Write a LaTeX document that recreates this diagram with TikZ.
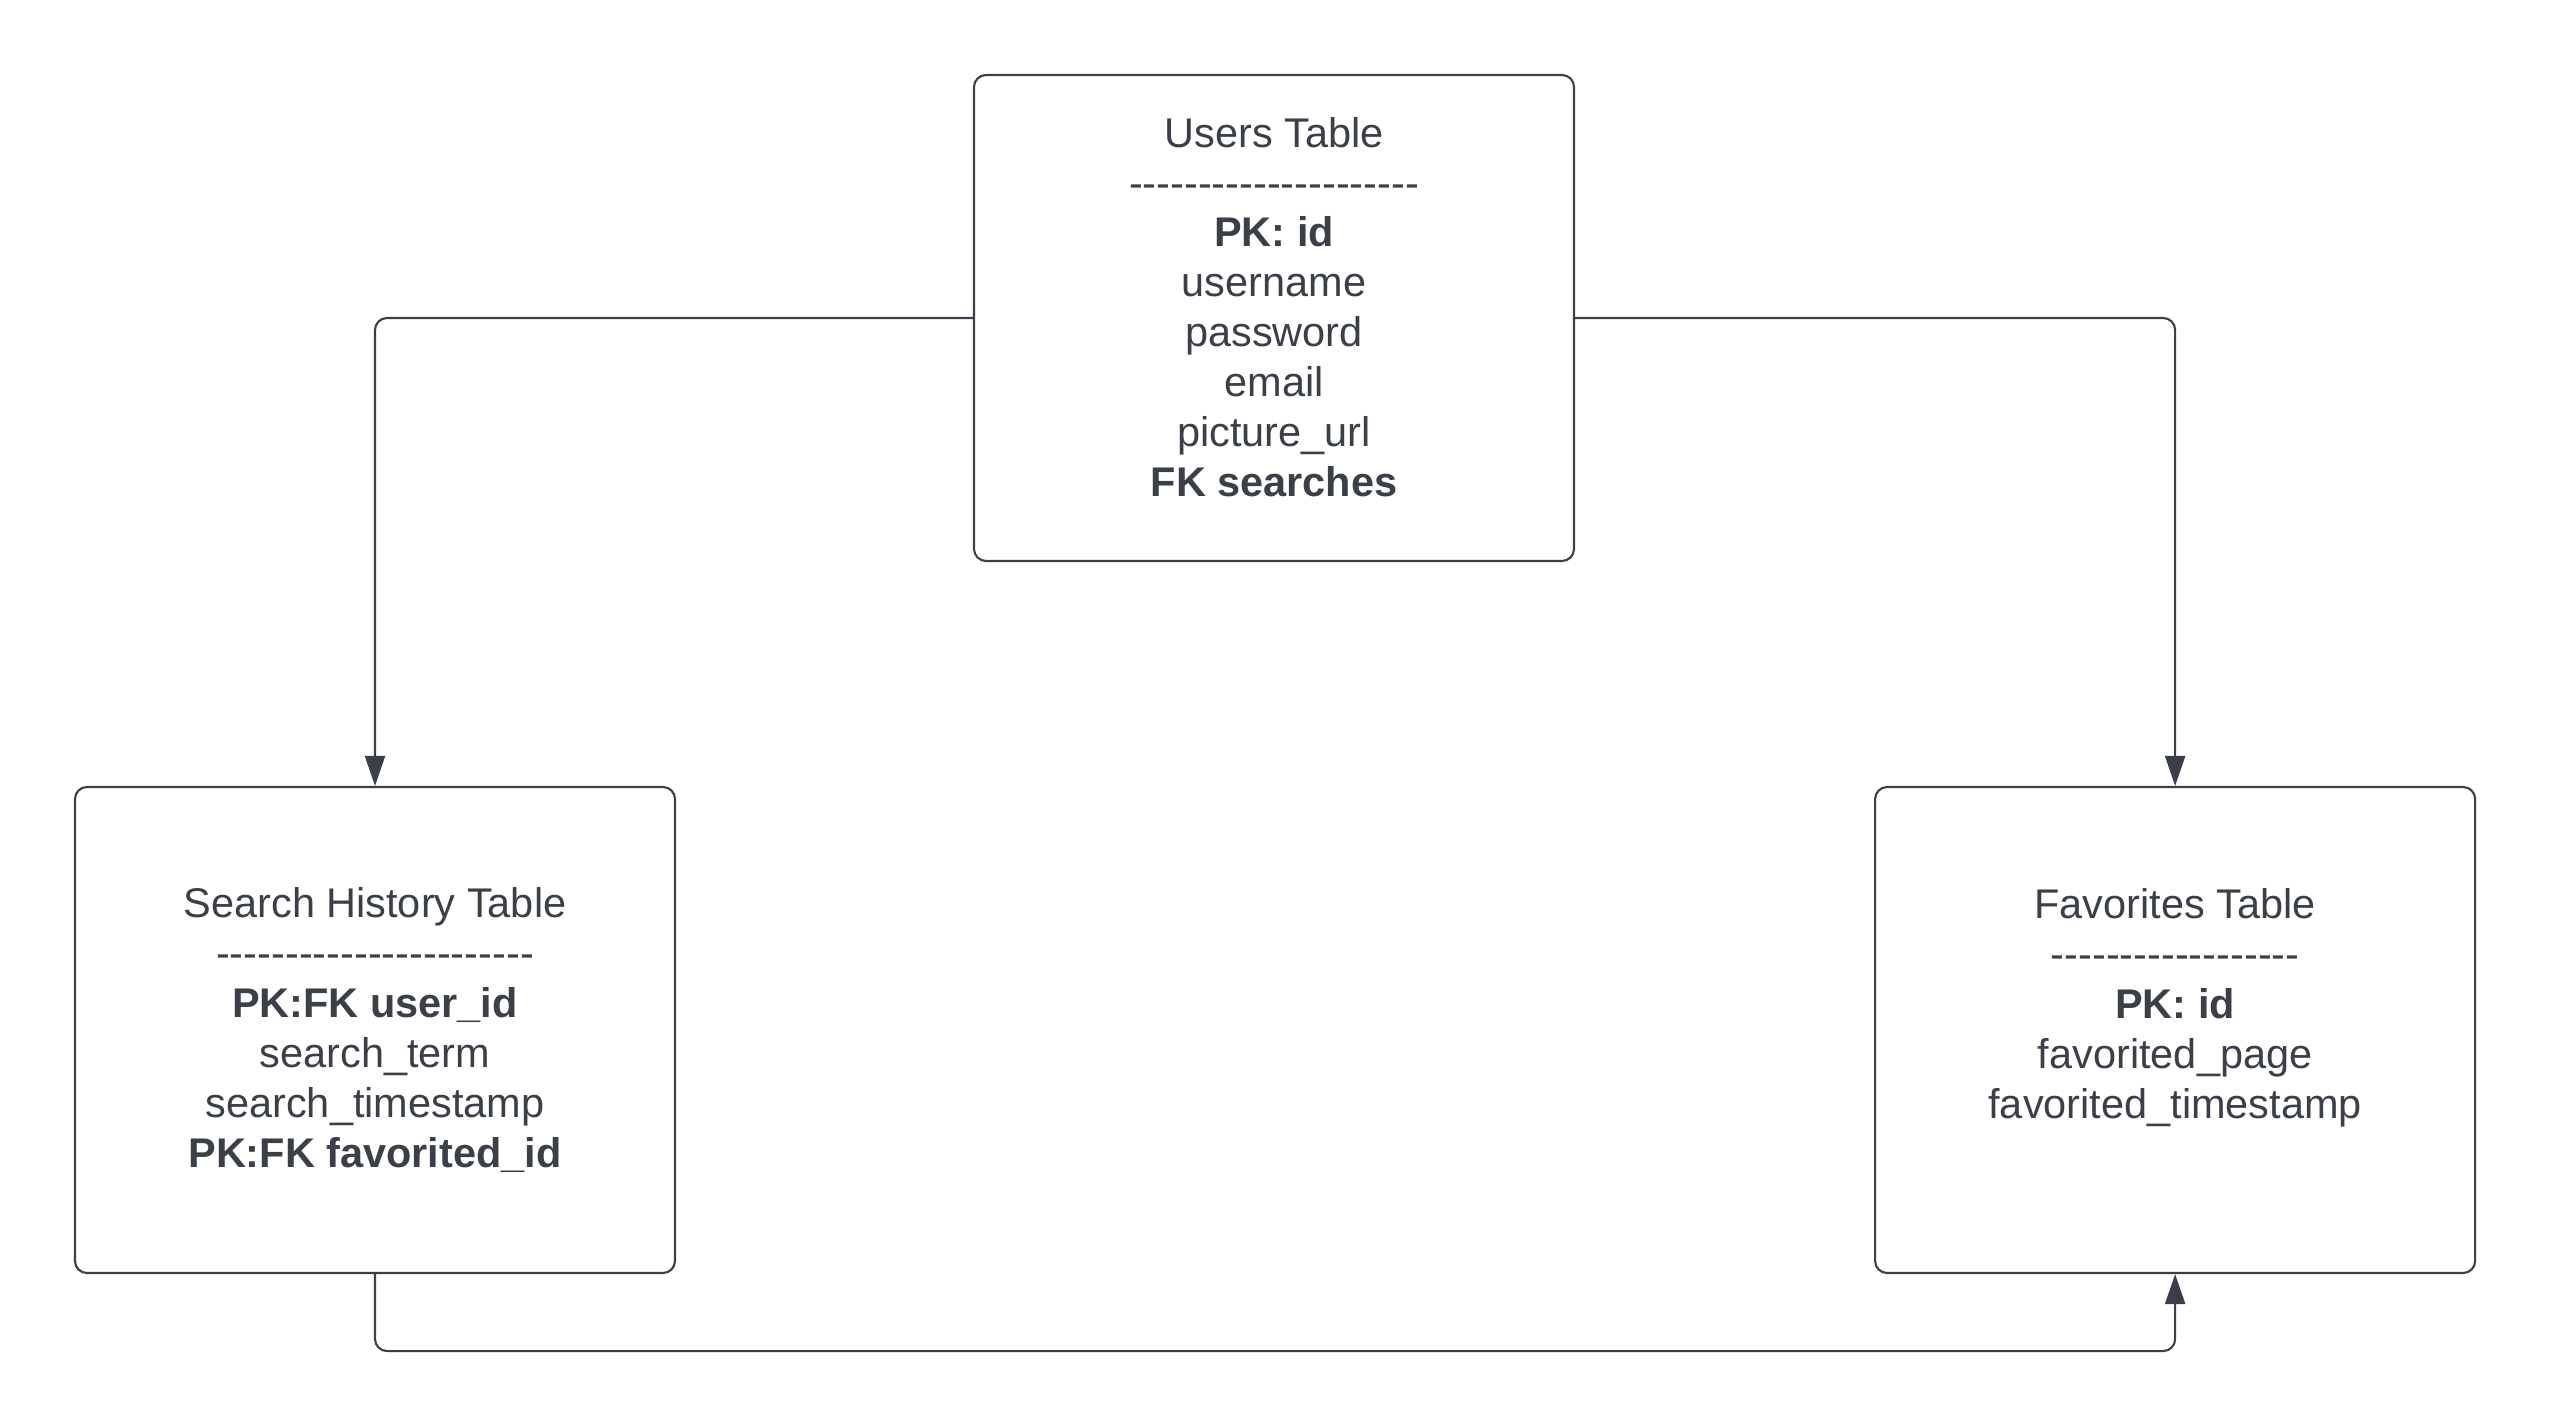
\documentclass[tikz,border=0pt]{standalone}
\usepackage{fontspec}
\setmainfont{Liberation Sans}[Ligatures=TeXOff]
\usepackage{xcolor}
\usetikzlibrary{positioning, arrows.meta}

\definecolor{ink}{RGB}{58,63,72}

\begin{document}
\begin{tikzpicture}[
        every node/.style={font=\fontsize{11.8}{14.2}\selectfont, text=ink},
        tbl/.style={rectangle, draw=ink, line width=0.6pt, rounded corners=1.2mm, minimum width=6cm, minimum height=4.86cm},
        fields/.style={align=center, inner sep=0pt},
        link/.style={-{Triangle[length=3mm, width=2mm]}, draw=ink, line width=0.6pt, rounded corners=1.2mm}
    ]
        \useasboundingbox (0,0) rectangle (25.5,-14.27);

        \node[tbl] (users) at (12.74,-3.18) {};
        \node[tbl] (search) at (3.75,-10.30) {};
        \node[tbl, right=11.98cm of search] (fav) {};

        \node[fields, yshift=1.1mm] (usersText) at (users) {Users Table\\---------------------\\\textbf{PK: id}\\username\\password\\email\\picture\_url\\\textbf{FK searches}};
        \node[fields] (searchText) at (search) {Search History Table\\-----------------------\\\textbf{PK:FK user\_id}\\search\_term\\search\_timestamp\\\textbf{PK:FK favorited\_id}};
        \node[fields, yshift=2.2mm] (favText) at (fav) {Favorites Table\\------------------\\\textbf{PK: id}\\favorited\_page\\favorited\_timestamp};

        \draw[link] (users.west) -| (search.north);
        \draw[link] (users.east) -| (fav.north);
        \draw[link] (search.south) -- ++(0,-0.77) -| (fav.south);
    \end{tikzpicture}
\end{document}
